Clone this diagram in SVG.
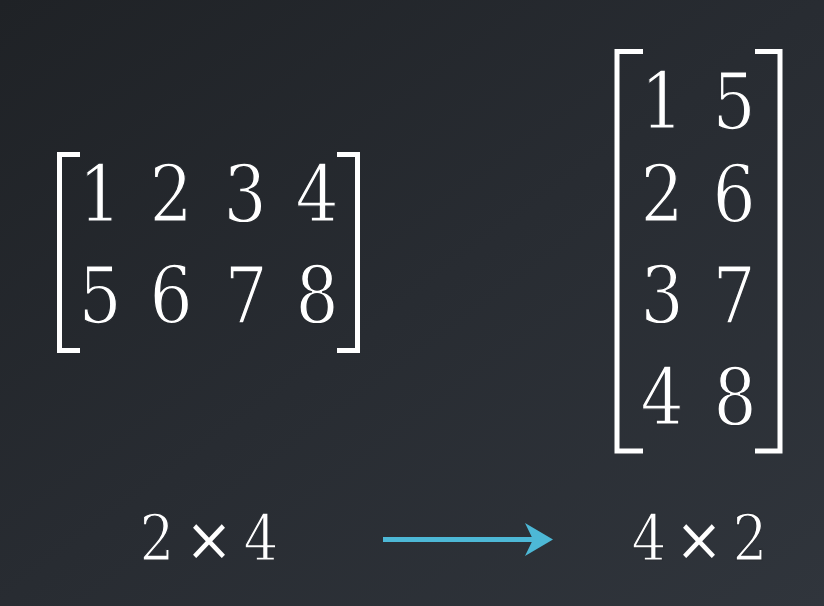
<svg xmlns="http://www.w3.org/2000/svg" width="824" height="606" viewBox="0 0 824 606">
  <defs>
    <linearGradient id="bg" x1="0" y1="0" x2="1" y2="1">
      <stop offset="0" stop-color="#1f2226"/>
      <stop offset="0.5" stop-color="#282c32"/>
      <stop offset="1" stop-color="#30353c"/>
    </linearGradient>
  </defs>
  <style>
    text { fill: #ffffff; text-anchor: middle; stroke-width: 1.4; }
    .m { font-size: 78px; }
    .lbl { font-size: 63px; }
    .l { stroke: #25292e; }
    .r { stroke: #2a2e34; }
    .b { stroke: #2b2f35; }
    .x { stroke: none; }
    .br { fill: none; stroke: #ffffff; stroke-width: 5; stroke-linecap: butt; stroke-linejoin: miter; }
  </style>
  <rect width="824" height="606" fill="url(#bg)"/>

  <g id="matrix-2x4" font-family="'DejaVu Serif', serif">
    <path class="br" d="M80,154.5 H59.5 V350.5 H80"/>
    <path class="br" d="M337,154.5 H357.5 V350.5 H337"/>
    <text class="m l" transform="translate(100,222) scale(0.87,1)">1</text>
    <text class="m l" transform="translate(171,222) scale(0.87,1)">2</text>
    <text class="m l" transform="translate(245,222) scale(0.87,1)">3</text>
    <text class="m l" transform="translate(317,222) scale(0.87,1)">4</text>
    <text class="m l" transform="translate(100,323) scale(0.87,1)">5</text>
    <text class="m l" transform="translate(171,323) scale(0.87,1)">6</text>
    <text class="m l" transform="translate(246,323) scale(0.87,1)">7</text>
    <text class="m l" transform="translate(317,323) scale(0.87,1)">8</text>
  </g>

  <g id="matrix-4x2" font-family="'DejaVu Serif', serif">
    <path class="br" d="M643,51.5 H617 V451 H643"/>
    <path class="br" d="M755,51.5 H780 V451 H755"/>
    <text class="m r" transform="translate(662,129) scale(0.87,1)">1</text>
    <text class="m r" transform="translate(734,129) scale(0.87,1)">5</text>
    <text class="m r" transform="translate(662,222) scale(0.87,1)">2</text>
    <text class="m r" transform="translate(734,222) scale(0.87,1)">6</text>
    <text class="m r" transform="translate(662,323) scale(0.87,1)">3</text>
    <text class="m r" transform="translate(734,323) scale(0.87,1)">7</text>
    <text class="m r" transform="translate(662,425) scale(0.87,1)">4</text>
    <text class="m r" transform="translate(735,425) scale(0.87,1)">8</text>
  </g>

  <g id="label-2x4" font-family="'DejaVu Serif', serif">
    <text class="lbl b" transform="translate(157,561) scale(0.87,1)">2</text>
    <text class="lbl x" transform="translate(209,560) scale(0.9,0.95)">×</text>
    <text class="lbl b" transform="translate(261,561) scale(0.87,1)">4</text>
  </g>

  <g id="label-4x2" font-family="'DejaVu Serif', serif">
    <text class="lbl b" transform="translate(649,561) scale(0.87,1)">4</text>
    <text class="lbl x" transform="translate(699,560) scale(0.9,0.95)">×</text>
    <text class="lbl b" transform="translate(750,561) scale(0.87,1)">2</text>
  </g>

  <g id="connectors">
    <line x1="383" y1="539.5" x2="534" y2="539.5" stroke="#4db8d6" stroke-width="5"/>
    <path d="M553,539.5 L525,523 L533,539.5 L525,556 Z" fill="#4db8d6"/>
  </g>
</svg>
